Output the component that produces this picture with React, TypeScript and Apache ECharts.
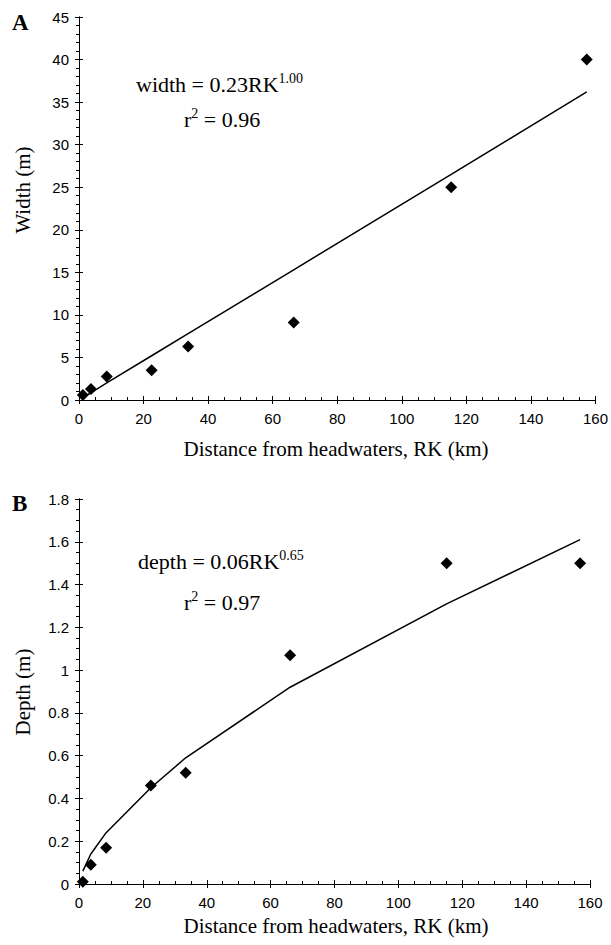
import React, { useEffect, useRef } from "react";
import * as echarts from "echarts";

// Panel A: channel width vs distance from headwaters
const xA = [1.2, 3.7, 8.6, 22.5, 33.8, 66.5, 115.3, 157.3];
const widthObs = [0.6, 1.3, 2.75, 3.5, 6.3, 9.1, 25.0, 40.0];
const widthFit = [0.3, 0.85, 2.0, 5.2, 7.8, 15.3, 26.5, 36.2];

// Panel B: channel depth vs distance from headwaters
const xB = [1.2, 3.7, 8.5, 22.5, 33.4, 66.1, 115.1, 156.9];
const depthObs = [0.01, 0.09, 0.17, 0.46, 0.52, 1.07, 1.5, 1.5];
const depthFit = [0.06, 0.14, 0.24, 0.45, 0.59, 0.92, 1.31, 1.61];

const xTitle = "Distance from headwaters, RK (km)";
const SANS = '"Liberation Sans", Arial, sans-serif';
const SERIF = '"Liberation Serif", "Times New Roman", serif';

function pairs(xs: number[], ys: number[]) {
  return xs.map((x, i) => [x, ys[i]]);
}

export default function App() {
  const ref = useRef<HTMLDivElement>(null);
  useEffect(() => {
    const chart = echarts.init(ref.current!, null, { renderer: "svg" });
    const axisLine = { show: true, lineStyle: { color: "#000", width: 1 } };
    const mkX = (grid: number, primary: boolean) => ({
      type: "value",
      gridIndex: grid,
      position: "bottom",
      min: 0,
      max: 160,
      interval: 20,
      axisLine,
      splitLine: { show: false },
      axisTick: primary
        ? { show: true, inside: false, length: 4, lineStyle: { color: "#000" } }
        : { show: true, inside: true, length: 4, lineStyle: { color: "#000" } },
      minorTick: primary
        ? { show: false }
        : { show: true, splitNumber: 4, length: 3, lineStyle: { color: "#000" } },
      axisLabel: primary
        ? { show: true, margin: 11, color: "#000", fontFamily: SANS, fontSize: 15 }
        : { show: false },
    });
    const mkY = (grid: number, primary: boolean, max: number, interval: number, minorSplit: number) => ({
      type: "value",
      gridIndex: grid,
      position: "left",
      min: 0,
      max,
      interval,
      axisLine,
      splitLine: { show: false },
      axisTick: primary
        ? { show: true, inside: false, length: 4, lineStyle: { color: "#000" } }
        : { show: true, inside: true, length: 4, lineStyle: { color: "#000" } },
      minorTick: primary
        ? { show: true, splitNumber: minorSplit, length: 3, lineStyle: { color: "#000" } }
        : { show: false },
      axisLabel: primary
        ? { show: true, margin: 10, color: "#000", fontFamily: SANS, fontSize: 15 }
        : { show: false },
    });

    const eqRich = {
      a: { fontFamily: SERIF, fontSize: 22, lineHeight: 26, color: "#000" },
      s: { fontFamily: SERIF, fontSize: 14, lineHeight: 16, verticalAlign: "top", color: "#000" },
    };

    const option: any = {
      animation: false,
      backgroundColor: "#fff",
      grid: [
        { left: 79, right: 14, top: 17, bottom: 545, containLabel: false },
        { left: 79, right: 21, top: 499, bottom: 61, containLabel: false },
      ],
      xAxis: [mkX(0, true), mkX(0, false), mkX(1, true), mkX(1, false)],
      yAxis: [
        mkY(0, true, 45, 5, 5),
        mkY(0, false, 45, 5, 5),
        mkY(1, true, 1.8, 0.2, 4),
        mkY(1, false, 1.8, 0.2, 4),
      ],
      series: [
        {
          type: "line",
          xAxisIndex: 0,
          yAxisIndex: 0,
          data: pairs(xA, widthFit),
          showSymbol: false,
          lineStyle: { color: "#000", width: 1.5 },
          z: 2,
        },
        {
          type: "scatter",
          xAxisIndex: 0,
          yAxisIndex: 0,
          data: pairs(xA, widthObs),
          symbol: "diamond",
          symbolSize: 12,
          itemStyle: { color: "#000", opacity: 1 },
          z: 3,
        },
        {
          type: "line",
          xAxisIndex: 2,
          yAxisIndex: 2,
          data: pairs(xB, depthFit),
          showSymbol: false,
          lineStyle: { color: "#000", width: 1.5 },
          z: 2,
        },
        {
          type: "scatter",
          xAxisIndex: 2,
          yAxisIndex: 2,
          data: pairs(xB, depthObs),
          symbol: "diamond",
          symbolSize: 12,
          itemStyle: { color: "#000", opacity: 1 },
          z: 3,
        },
      ],
      graphic: [
        { type: "text", x: 12, y: 11, style: { text: "A", font: `bold 23px ${SERIF}`, fill: "#000" } },
        { type: "text", x: 12, y: 492, style: { text: "B", font: `bold 23px ${SERIF}`, fill: "#000" } },
        {
          type: "text", x: 23, y: 190, rotation: Math.PI / 2,
          style: { text: "Width (m)", font: `21px ${SERIF}`, fill: "#000", align: "center", verticalAlign: "middle" },
        },
        {
          type: "text", x: 23, y: 692, rotation: Math.PI / 2,
          style: { text: "Depth (m)", font: `21px ${SERIF}`, fill: "#000", align: "center", verticalAlign: "middle" },
        },
        {
          type: "text", x: 336, y: 449,
          style: { text: xTitle, font: `21px ${SERIF}`, fill: "#000", align: "center", verticalAlign: "middle" },
        },
        {
          type: "text", x: 336, y: 926,
          style: { text: xTitle, font: `21px ${SERIF}`, fill: "#000", align: "center", verticalAlign: "middle" },
        },
        {
          type: "text", x: 136, y: 84,
          style: { text: "{a|width = 0.23RK}{s|1.00}", rich: eqRich, align: "left", verticalAlign: "middle" },
        },
        {
          type: "text", x: 184, y: 119,
          style: { text: "{a|r}{s|2}{a| = 0.96}", rich: eqRich, align: "left", verticalAlign: "middle" },
        },
        {
          type: "text", x: 138, y: 561,
          style: { text: "{a|depth = 0.06RK}{s|0.65}", rich: eqRich, align: "left", verticalAlign: "middle" },
        },
        {
          type: "text", x: 184, y: 602,
          style: { text: "{a|r}{s|2}{a| = 0.97}", rich: eqRich, align: "left", verticalAlign: "middle" },
        },
      ],
    };
    chart.setOption(option);
    return () => chart.dispose();
  }, []);
  return (
    <div
      ref={ref}
      style={{ position: "fixed", left: 0, top: 0, width: 611, height: 945, background: "#fff" }}
    />
  );
}
